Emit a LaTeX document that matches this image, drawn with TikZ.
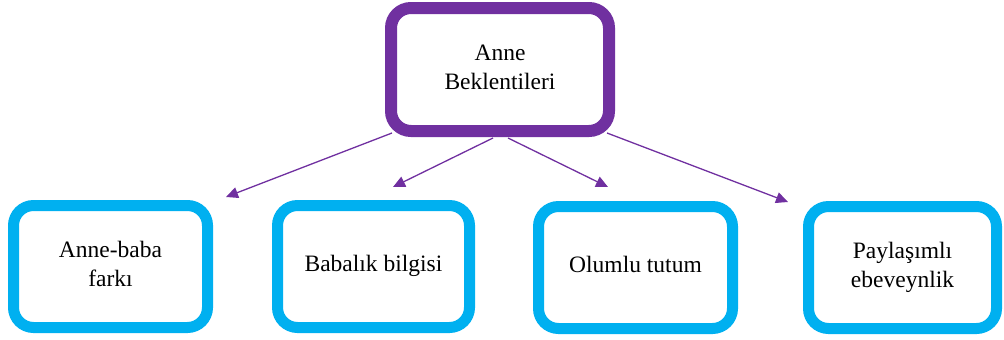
\documentclass[tikz,border=0pt]{standalone}
\usepackage{fontspec}
\setmainfont{Liberation Serif}
\usetikzlibrary{arrows.meta,calc}
\definecolor{boxpurple}{HTML}{7030A0}
\definecolor{boxcyan}{HTML}{00B0F0}
\begin{document}
\begin{tikzpicture}[x=1pt,y=-1pt,
  topbox/.style={draw=boxpurple,line width=12pt,rounded corners=20pt,fill=white,
    minimum width=218pt,minimum height=123pt,align=center,inner sep=0pt},
  leafbox/.style={draw=boxcyan,line width=11pt,rounded corners=20pt,fill=white,
    minimum height=122pt,align=center,inner sep=0pt},
  conn/.style={draw=boxpurple,line width=1.3pt,-{Triangle[length=12pt,width=11pt]}},
  every node/.style={font=\fontsize{23.5pt}{28.5pt}\selectfont}]
\useasboundingbox (0,0) rectangle (1004,340);
\node[topbox] (top) at (500,69.5) {\raisebox{3pt}{\begin{tabular}{@{}c@{}}Anne\\Beklentileri\end{tabular}}};
\node[leafbox,minimum width=194pt] (b1) at (110.5,266.5) {\raisebox{6pt}{\begin{tabular}{@{}c@{}}Anne-baba\\farkı\end{tabular}}};
\node[leafbox,minimum width=192pt] (b2) at (373.5,266.5) {\raisebox{6pt}{Babalık bilgisi}};
\node[leafbox,minimum width=194pt] (b3) at (635.5,267.5) {\raisebox{6pt}{Olumlu tutum}};
\node[leafbox,minimum width=188pt] (b4) at (902.5,267.5) {\raisebox{6pt}{\begin{tabular}{@{}c@{}}Paylaşımlı\\ebeveynlik\end{tabular}}};
\coordinate (s1) at (392,133);
\coordinate (s2) at (493,138);
\coordinate (s3) at (508,138);
\coordinate (s4) at (607,133);
\coordinate (t1) at (226,197);
\coordinate (t2) at (393,187);
\coordinate (t3) at (608,187);
\coordinate (t4) at (788,202);
\draw[conn] (s1) -- (t1);
\draw[conn] (s2) -- (t2);
\draw[conn] (s3) -- (t3);
\draw[conn] (s4) -- (t4);
\end{tikzpicture}
\end{document}
